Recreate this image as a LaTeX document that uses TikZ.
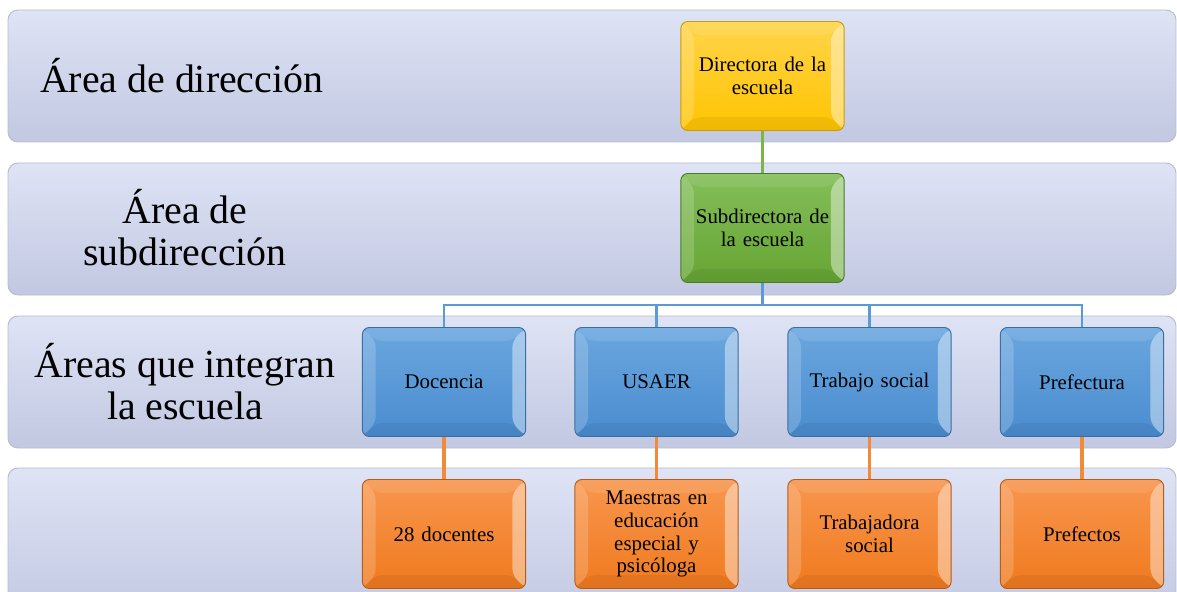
\documentclass[tikz,border=0pt]{standalone}
\usepackage{fontspec}
\setmainfont{Liberation Serif}
\usetikzlibrary{calc}

\definecolor{bandtop}{HTML}{DEE3F5}
\definecolor{bandbot}{HTML}{C2C8E1}
\definecolor{bandedge}{HTML}{B9BDCC}
\definecolor{yeltop}{HTML}{FFD44A}
\definecolor{yelbot}{HTML}{FFC400}
\definecolor{yeledge}{HTML}{C89A10}
\definecolor{grntop}{HTML}{83BE58}
\definecolor{grnbot}{HTML}{67A534}
\definecolor{grnedge}{HTML}{4C7A2C}
\definecolor{blutop}{HTML}{6BA7DF}
\definecolor{blubot}{HTML}{4A8CD0}
\definecolor{bluedge}{HTML}{3B6EA3}
\definecolor{orgtop}{HTML}{F8964E}
\definecolor{orgbot}{HTML}{F07A1E}
\definecolor{orgedge}{HTML}{B45E1C}
\definecolor{lineblue}{HTML}{5B9BD5}
\definecolor{linegreen}{HTML}{7AB648}
\definecolor{lineorange}{HTML}{F28A38}

\begin{document}
\begin{tikzpicture}[x=0.03cm,y=-0.03cm,
    band/.style={rounded corners=0.3cm, draw=bandedge, line width=0.8pt, top color=bandtop, bottom color=bandbot},
    arealabel/.style={align=center, font=\fontsize{34}{36}\selectfont},
    bevel/.style={path picture={
        \coordinate (sw) at (path picture bounding box.south west);
        \coordinate (ne) at (path picture bounding box.north east);
        \coordinate (nw) at (sw|-ne);
        \coordinate (se) at (ne|-sw);
        \fill[white, opacity=0.18] (sw) -- (nw) -- ($(nw)+(0.4cm,-0.4cm)$) -- ($(sw)+(0.4cm,0.4cm)$) -- cycle;
        \fill[white, opacity=0.42] (se) -- (ne) -- ($(ne)+(-0.4cm,-0.4cm)$) -- ($(se)+(-0.4cm,0.4cm)$) -- cycle;
        \fill[white, opacity=0.1] (nw) -- (ne) -- ($(ne)+(-0.4cm,-0.4cm)$) -- ($(nw)+(0.4cm,-0.4cm)$) -- cycle;
        \fill[black, opacity=0.06] (sw) -- (se) -- ($(se)+(-0.4cm,0.4cm)$) -- ($(sw)+(0.4cm,0.4cm)$) -- cycle;
    }},
    box/.style={bevel, rounded corners=6pt, line width=0.8pt, minimum width=4.9cm, minimum height=3.27cm,
        text width=4.2cm, align=center, font=\fontsize{17.8}{19.5}\selectfont},
    yelbox/.style={box, draw=yeledge, top color=yeltop, bottom color=yelbot},
    grnbox/.style={box, draw=grnedge, top color=grntop, bottom color=grnbot},
    blubox/.style={box, draw=bluedge, top color=blutop, bottom color=blubot},
    orgbox/.style={box, draw=orgedge, top color=orgtop, bottom color=orgbot}]

\useasboundingbox (0,0) rectangle (1177,592);

% bands
\draw[band] (8,10) rectangle (1176,142);
\draw[band] (8,163) rectangle (1176,295);
\draw[band] (8,316) rectangle (1176,448);
\draw[band] (8,468) rectangle (1176,620);

\node[arealabel, anchor=west] (lbldir) at (36,76) {Área de dirección};
\node[arealabel] (lblsub) at (185,228) {Área de\\subdirección};
\node[arealabel] (lblint) at (185,382) {Áreas que integran\\la escuela};

% boxes
\node[yelbox] (dir) at (762.5,76) {Directora de la\\escuela};
\node[grnbox] (sub) at (762.5,228) {Subdirectora de\\la escuela};

\node[blubox] (doc) at (444,382) {Docencia};
\node[blubox] (usaer) at (656.5,382) {USAER};
\node[blubox] (trab) at (869.5,382) {Trabajo social};
\node[blubox] (pref) at (1082,382) {Prefectura};

\node[orgbox] (docentes) at (444,534) {28 docentes};
\node[orgbox] (maestras) at (656.5,534) {Maestras en\\educación\\especial y\\psicóloga};
\node[orgbox] (trabsoc) at (869.5,534) {Trabajadora\\social};
\node[orgbox] (prefectos) at (1082,534) {Prefectos};

% connectors
\draw[linegreen, line width=2.5pt] (dir.south) -- (sub.north);
\coordinate (bus) at (762.5,305);
\draw[lineblue, line width=3pt] (sub.south) -- (bus);
\foreach \n in {doc,usaer,trab,pref}
    \draw[lineblue, line width=2pt] (bus) -| (\n.north);
\draw[lineorange, line width=3pt] (doc.south) -- (docentes.north);
\draw[lineorange, line width=3pt] (usaer.south) -- (maestras.north);
\draw[lineorange, line width=3pt] (trab.south) -- (trabsoc.north);
\draw[lineorange, line width=3pt] (pref.south) -- (prefectos.north);

\end{tikzpicture}
\end{document}
